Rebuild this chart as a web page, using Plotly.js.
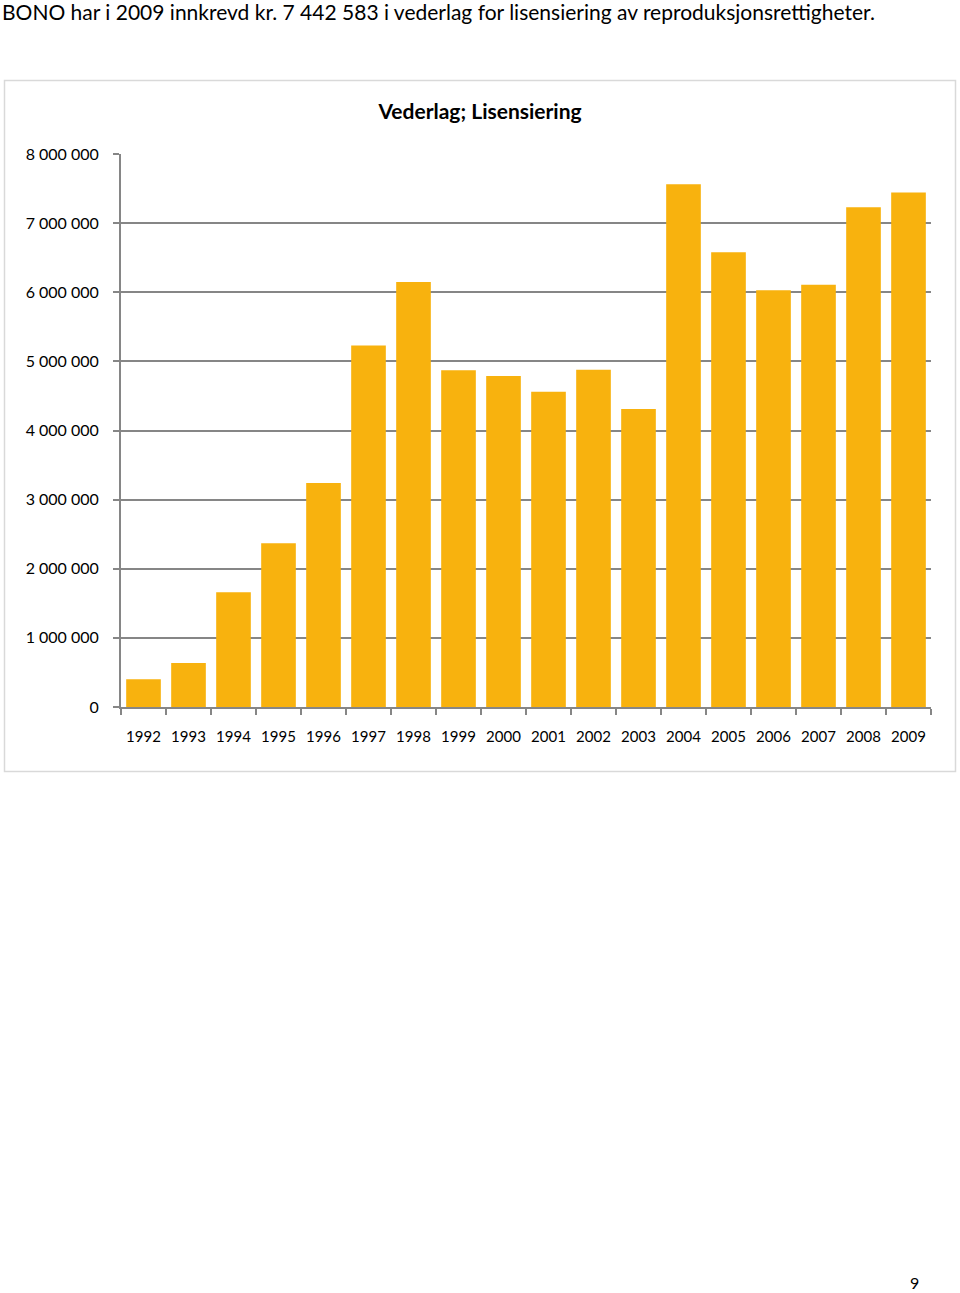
<!DOCTYPE html>
<html>
<head>
<meta charset="utf-8">
<script src="https://cdn.plot.ly/plotly-3.0.1.min.js"></script>
<style>html,body{margin:0;padding:0;background:#fff;}#chart{width:960px;height:1293px;}</style>
</head>
<body>
<div id="chart"></div>
<script>
const years = ["1992","1993","1994","1995","1996","1997","1998","1999","2000","2001","2002","2003","2004","2005","2006","2007","2008","2009"];
const vederlag = [400000, 636000, 1660000, 2370000, 3240000, 5230000, 6150000, 4870000, 4790000, 4560000, 4880000, 4310000, 7563000, 6580000, 6030000, 6107000, 7230000, 7442583];
const yTicks = [0, 1000000, 2000000, 3000000, 4000000, 5000000, 6000000, 7000000, 8000000];
const pageHeader = "BONO har i 2009 innkrevd kr. 7 442 583 i vederlag for lisensiering av reproduksjonsrettigheter.";
const chartTitle = "Vederlag; Lisensiering";
const pageNumber = "9";

const W = 960, H = 1293;
const L = 121, R = 29, T = 154, B = 586;
const pw = W - L - R, ph = H - T - B;
const px = x => (x - L) / pw;
const py = y => (H - B - y) / ph;

const font = "Lato, 'Open Sans', sans-serif";

Plotly.newPlot('chart', [{
  type: 'bar',
  x: years,
  y: vederlag,
  marker: {color: '#F8B20E'},
  hoverinfo: 'x+y'
}], {
  width: W, height: H,
  margin: {l: L, r: R, t: T, b: B, pad: 0},
  paper_bgcolor: '#fff', plot_bgcolor: '#fff',
  separators: ', ',
  bargap: 0.23,
  showlegend: false,
  font: {family: font, color: '#000'},
  title: {text: '<b>' + chartTitle + '</b>', x: 0.5, xref: 'container', xanchor: 'center',
          y: 1 - 112 / H, yref: 'container', yanchor: 'middle',
          font: {family: font, size: 21, color: '#000'}},
  xaxis: {
    type: 'category', showgrid: false, showline: true, linecolor: '#868686', linewidth: 2,
    ticks: 'outside', tickson: 'boundaries', ticklen: 6, tickcolor: '#868686', tickwidth: 1.5,
    tickfont: {family: font, size: 15, color: '#000'}, ticklabelstandoff: 15
  },
  yaxis: {
    range: [0, 8000000], tickvals: yTicks, tickformat: ',d',
    showgrid: true, gridcolor: '#868686', gridwidth: 2,
    showline: true, linecolor: '#868686', linewidth: 2,
    ticks: 'outside', ticklen: 6, tickcolor: '#868686', tickwidth: 2,
    tickfont: {family: font, size: 16, color: '#000'}, ticklabelstandoff: 11,
    zeroline: false
  },
  shapes: [{
    type: 'rect', xref: 'paper', yref: 'paper',
    x0: px(4.5), x1: px(955.5), y0: py(771.5), y1: py(80.5),
    line: {color: '#d9d9d9', width: 1.5}, fillcolor: 'rgba(0,0,0,0)', layer: 'below'
  }],
  annotations: [{
    text: pageHeader, xref: 'paper', yref: 'paper', x: px(0), y: py(12),
    xanchor: 'left', yanchor: 'middle', showarrow: false,
    font: {family: font, size: 21, color: '#000'}
  }, {
    text: pageNumber, xref: 'paper', yref: 'paper', x: px(914), y: py(1282),
    xanchor: 'center', yanchor: 'middle', showarrow: false, borderpad: 0,
    font: {family: font, size: 16, color: '#000'}
  }]
}, {displayModeBar: false, staticPlot: true});
</script>
</body>
</html>
